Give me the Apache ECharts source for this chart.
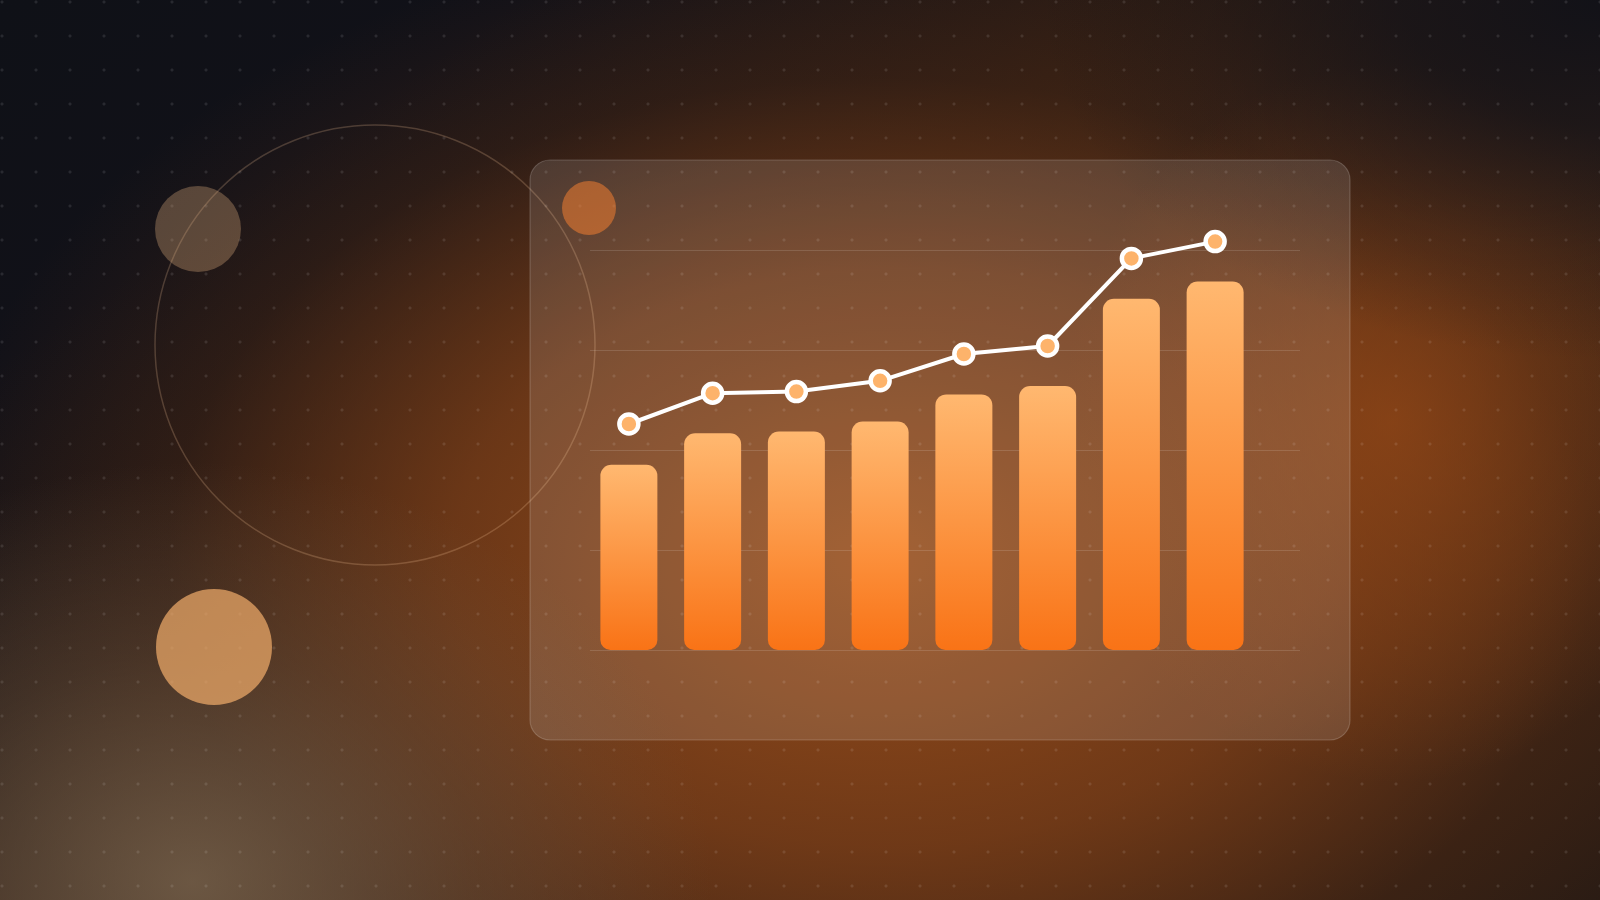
<!DOCTYPE html>
<html>
<head>
<meta charset="utf-8">
<script src="https://cdn.jsdelivr.net/npm/echarts@6/dist/echarts.min.js"></script>
<style>
html,body{margin:0;padding:0;width:1600px;height:900px;overflow:hidden;}
#bg{position:absolute;left:0;top:0;width:1600px;height:900px;
background:
 radial-gradient(circle, rgba(255,255,255,0.10) 0, rgba(255,255,255,0.10) 1.3px, rgba(255,255,255,0) 1.8px) -15px -15px / 34px 34px,
 radial-gradient(ellipse 560px 360px at 100% 0%, rgba(16,17,24,0.95) 0%, rgba(16,17,24,0.7) 35%, rgba(16,17,24,0.25) 70%, rgba(16,17,24,0) 100%),
 radial-gradient(ellipse 520px 420px at 12% 98%, rgba(120,100,78,0.8) 0%, rgba(110,90,70,0.35) 55%, rgba(110,90,70,0) 100%),
 radial-gradient(ellipse 330px 360px at 87% 47%, rgba(150,72,22,0.7) 0%, rgba(150,72,22,0) 100%),
 radial-gradient(ellipse 950px 640px at 55% 62%, rgba(150,76,26,1) 0%, rgba(128,64,24,0.75) 45%, rgba(90,46,20,0.3) 75%, rgba(60,35,20,0) 100%),
 linear-gradient(145deg, #0f1117 0%, #111118 18%, #2a1b14 40%, #3f2618 62%, #3a2214 80%, #261a14 100%);
}
#chart{position:absolute;left:0;top:0;width:1600px;height:900px;}
</style>
</head>
<body>
<div id="bg"></div>
<div id="chart"></div>
<script>
const categories = ['Jan','Feb','Mar','Apr','May','Jun','Jul','Aug'];
const barValues = [46.3, 54.2, 54.6, 57.1, 63.9, 66.0, 87.8, 92.1];
const lineValues = [56.5, 64.2, 64.6, 67.3, 74.0, 76.0, 97.9, 102.1];
const gridTicks = [0, 25, 50, 75, 100];

const chart = echarts.init(document.getElementById('chart'), null, {renderer:'canvas'});
chart.setOption({
  backgroundColor: 'transparent',
  animation: false,
  graphic: [
    { type:'circle', z:0, shape:{cx:375, cy:345, r:220}, style:{fill:'none', stroke:'rgba(255,205,160,0.22)', lineWidth:1.5} },
    { type:'circle', z:0, shape:{cx:198, cy:229, r:43}, style:{fill:'rgba(230,180,130,0.32)'} },
    { type:'circle', z:0, shape:{cx:214, cy:647, r:58}, style:{fill:'rgba(238,170,105,0.72)'} },
    { type:'rect', z:0, shape:{x:530, y:160, width:820, height:580, r:20}, style:{fill:'rgba(255,255,255,0.12)', stroke:'rgba(255,255,255,0.18)', lineWidth:1.2} },
    { type:'circle', z:0, shape:{cx:589, cy:208, r:27}, style:{fill:'rgba(240,125,50,0.55)'} }
  ],
  grid: [
    { left:587, right:343, top:250, bottom:250 },
    { left:590, right:300, top:250, bottom:250 }
  ],
  xAxis: [
    { type:'category', gridIndex:0, data:categories, show:false, boundaryGap:true },
    { type:'value', gridIndex:1, show:false, min:0, max:1 }
  ],
  yAxis: [
    { type:'value', gridIndex:0, min:0, max:100, interval:25, show:false, splitLine:{show:false} },
    { type:'value', gridIndex:1, min:gridTicks[0], max:gridTicks[gridTicks.length-1], interval:25,
      axisLine:{show:false}, axisTick:{show:false}, axisLabel:{show:false},
      splitLine:{show:true, lineStyle:{color:'rgba(255,255,255,0.13)', width:1}} }
  ],
  series: [
    {
      type:'bar', xAxisIndex:0, yAxisIndex:0, data:barValues, barWidth:57, z:3,
      itemStyle:{
        borderRadius:[11,11,10,10],
        color:new echarts.graphic.LinearGradient(0,0,0,1,[
          {offset:0, color:'#FFB870'},
          {offset:1, color:'#F97316'}
        ])
      }
    },
    {
      type:'line', xAxisIndex:0, yAxisIndex:0, data:lineValues, clip:false, z:5,
      symbol:'circle', symbolSize:19,
      lineStyle:{color:'#ffffff', width:4},
      itemStyle:{color:'#FDB36B', borderColor:'#ffffff', borderWidth:4.5}
    }
  ]
});
</script>
</body>
</html>
